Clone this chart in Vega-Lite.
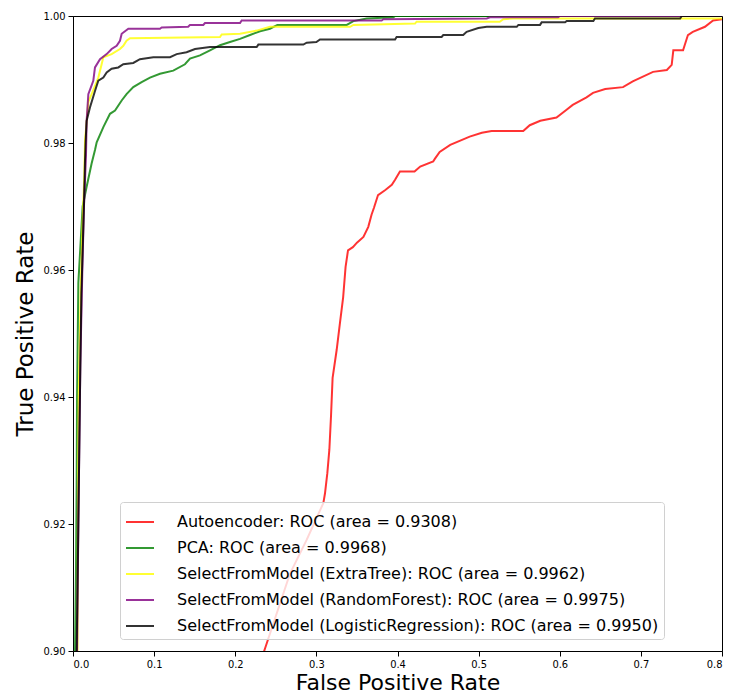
{
  "$schema": "https://vega.github.io/schema/vega-lite/v6.json",
  "autosize": {"type": "none"},
  "padding": {"left": 73, "top": 16, "right": 7, "bottom": 44},
  "width": 649,
  "height": 635,
  "background": "white",
  "datasets": {
    "models": [
      {"m": "ae", "label": "Autoencoder: ROC (area = 0.9308)"},
      {"m": "pca", "label": "PCA: ROC (area = 0.9968)"},
      {"m": "et", "label": "SelectFromModel (ExtraTree): ROC (area = 0.9962)"},
      {"m": "rf", "label": "SelectFromModel (RandomForest): ROC (area = 0.9975)"},
      {"m": "lr", "label": "SelectFromModel (LogisticRegression): ROC (area = 0.9950)"}
    ],
    "curves": [
      {"m": "ae", "fpr": 0.215, "tpr": 0.892},
      {"m": "ae", "fpr": 0.2367, "tpr": 0.9004},
      {"m": "ae", "fpr": 0.2675, "tpr": 0.9122},
      {"m": "ae", "fpr": 0.288, "tpr": 0.9175},
      {"m": "ae", "fpr": 0.3086, "tpr": 0.9233},
      {"m": "ae", "fpr": 0.3106, "tpr": 0.9248},
      {"m": "ae", "fpr": 0.3135, "tpr": 0.928},
      {"m": "ae", "fpr": 0.316, "tpr": 0.9317},
      {"m": "ae", "fpr": 0.318, "tpr": 0.9369},
      {"m": "ae", "fpr": 0.32, "tpr": 0.943},
      {"m": "ae", "fpr": 0.325, "tpr": 0.9474},
      {"m": "ae", "fpr": 0.329, "tpr": 0.9516},
      {"m": "ae", "fpr": 0.333, "tpr": 0.9557},
      {"m": "ae", "fpr": 0.336, "tpr": 0.9605},
      {"m": "ae", "fpr": 0.339, "tpr": 0.9631},
      {"m": "ae", "fpr": 0.345, "tpr": 0.9636},
      {"m": "ae", "fpr": 0.35, "tpr": 0.9643},
      {"m": "ae", "fpr": 0.358, "tpr": 0.9652},
      {"m": "ae", "fpr": 0.364, "tpr": 0.9668},
      {"m": "ae", "fpr": 0.368, "tpr": 0.9687},
      {"m": "ae", "fpr": 0.371, "tpr": 0.9698},
      {"m": "ae", "fpr": 0.376, "tpr": 0.9718},
      {"m": "ae", "fpr": 0.385, "tpr": 0.9726},
      {"m": "ae", "fpr": 0.393, "tpr": 0.9734},
      {"m": "ae", "fpr": 0.397, "tpr": 0.9742},
      {"m": "ae", "fpr": 0.403, "tpr": 0.9755},
      {"m": "ae", "fpr": 0.421, "tpr": 0.9755},
      {"m": "ae", "fpr": 0.428, "tpr": 0.9763},
      {"m": "ae", "fpr": 0.444, "tpr": 0.9771},
      {"m": "ae", "fpr": 0.446, "tpr": 0.9775},
      {"m": "ae", "fpr": 0.452, "tpr": 0.9786},
      {"m": "ae", "fpr": 0.465, "tpr": 0.9797},
      {"m": "ae", "fpr": 0.489, "tpr": 0.981},
      {"m": "ae", "fpr": 0.504, "tpr": 0.9816},
      {"m": "ae", "fpr": 0.516, "tpr": 0.9819},
      {"m": "ae", "fpr": 0.555, "tpr": 0.9819},
      {"m": "ae", "fpr": 0.563, "tpr": 0.9828},
      {"m": "ae", "fpr": 0.576, "tpr": 0.9835},
      {"m": "ae", "fpr": 0.596, "tpr": 0.984},
      {"m": "ae", "fpr": 0.608, "tpr": 0.9852},
      {"m": "ae", "fpr": 0.616, "tpr": 0.986},
      {"m": "ae", "fpr": 0.633, "tpr": 0.9872},
      {"m": "ae", "fpr": 0.641, "tpr": 0.9879},
      {"m": "ae", "fpr": 0.656, "tpr": 0.9885},
      {"m": "ae", "fpr": 0.678, "tpr": 0.9888},
      {"m": "ae", "fpr": 0.69, "tpr": 0.9897},
      {"m": "ae", "fpr": 0.715, "tpr": 0.9912},
      {"m": "ae", "fpr": 0.732, "tpr": 0.9915},
      {"m": "ae", "fpr": 0.738, "tpr": 0.9923},
      {"m": "ae", "fpr": 0.74, "tpr": 0.9946},
      {"m": "ae", "fpr": 0.752, "tpr": 0.9946},
      {"m": "ae", "fpr": 0.758, "tpr": 0.997},
      {"m": "ae", "fpr": 0.764, "tpr": 0.9975},
      {"m": "ae", "fpr": 0.779, "tpr": 0.9983},
      {"m": "ae", "fpr": 0.789, "tpr": 0.9993},
      {"m": "ae", "fpr": 0.8, "tpr": 0.9995},
      {"m": "ae", "fpr": 1.0, "tpr": 1.0},

      {"m": "pca", "fpr": 0.002, "tpr": 0.89},
      {"m": "pca", "fpr": 0.0025, "tpr": 0.9},
      {"m": "pca", "fpr": 0.0037, "tpr": 0.913},
      {"m": "pca", "fpr": 0.0045, "tpr": 0.926},
      {"m": "pca", "fpr": 0.005, "tpr": 0.94},
      {"m": "pca", "fpr": 0.0066, "tpr": 0.958},
      {"m": "pca", "fpr": 0.0119, "tpr": 0.97},
      {"m": "pca", "fpr": 0.0168, "tpr": 0.9731},
      {"m": "pca", "fpr": 0.023, "tpr": 0.9768},
      {"m": "pca", "fpr": 0.0271, "tpr": 0.9789},
      {"m": "pca", "fpr": 0.0292, "tpr": 0.9801},
      {"m": "pca", "fpr": 0.0374, "tpr": 0.9825},
      {"m": "pca", "fpr": 0.0456, "tpr": 0.9846},
      {"m": "pca", "fpr": 0.0518, "tpr": 0.9851},
      {"m": "pca", "fpr": 0.06, "tpr": 0.9867},
      {"m": "pca", "fpr": 0.066, "tpr": 0.9877},
      {"m": "pca", "fpr": 0.0743, "tpr": 0.9888},
      {"m": "pca", "fpr": 0.0846, "tpr": 0.9896},
      {"m": "pca", "fpr": 0.0949, "tpr": 0.9903},
      {"m": "pca", "fpr": 0.1072, "tpr": 0.9909},
      {"m": "pca", "fpr": 0.1236, "tpr": 0.9914},
      {"m": "pca", "fpr": 0.138, "tpr": 0.9924},
      {"m": "pca", "fpr": 0.1442, "tpr": 0.9933},
      {"m": "pca", "fpr": 0.1565, "tpr": 0.9938},
      {"m": "pca", "fpr": 0.1689, "tpr": 0.9946},
      {"m": "pca", "fpr": 0.1812, "tpr": 0.9954},
      {"m": "pca", "fpr": 0.1935, "tpr": 0.9959},
      {"m": "pca", "fpr": 0.2059, "tpr": 0.9964},
      {"m": "pca", "fpr": 0.2182, "tpr": 0.997},
      {"m": "pca", "fpr": 0.2305, "tpr": 0.9976},
      {"m": "pca", "fpr": 0.2428, "tpr": 0.998},
      {"m": "pca", "fpr": 0.2519, "tpr": 0.9986},
      {"m": "pca", "fpr": 0.3374, "tpr": 0.9986},
      {"m": "pca", "fpr": 0.3456, "tpr": 0.9992},
      {"m": "pca", "fpr": 0.362, "tpr": 0.9996},
      {"m": "pca", "fpr": 0.395, "tpr": 0.9998},
      {"m": "pca", "fpr": 0.397, "tpr": 1.0},
      {"m": "pca", "fpr": 1.0, "tpr": 1.0},

      {"m": "et", "fpr": 0.004, "tpr": 0.89},
      {"m": "et", "fpr": 0.0055, "tpr": 0.9},
      {"m": "et", "fpr": 0.006, "tpr": 0.918},
      {"m": "et", "fpr": 0.007, "tpr": 0.94},
      {"m": "et", "fpr": 0.0095, "tpr": 0.957},
      {"m": "et", "fpr": 0.012, "tpr": 0.968},
      {"m": "et", "fpr": 0.014, "tpr": 0.975},
      {"m": "et", "fpr": 0.0148, "tpr": 0.9804},
      {"m": "et", "fpr": 0.019, "tpr": 0.9865},
      {"m": "et", "fpr": 0.023, "tpr": 0.9877},
      {"m": "et", "fpr": 0.0312, "tpr": 0.9903},
      {"m": "et", "fpr": 0.0353, "tpr": 0.9924},
      {"m": "et", "fpr": 0.0374, "tpr": 0.9935},
      {"m": "et", "fpr": 0.0476, "tpr": 0.994},
      {"m": "et", "fpr": 0.0579, "tpr": 0.9948},
      {"m": "et", "fpr": 0.062, "tpr": 0.9953},
      {"m": "et", "fpr": 0.066, "tpr": 0.9961},
      {"m": "et", "fpr": 0.0703, "tpr": 0.9965},
      {"m": "et", "fpr": 0.1812, "tpr": 0.9967},
      {"m": "et", "fpr": 0.1833, "tpr": 0.9971},
      {"m": "et", "fpr": 0.2059, "tpr": 0.9972},
      {"m": "et", "fpr": 0.2264, "tpr": 0.9977},
      {"m": "et", "fpr": 0.2428, "tpr": 0.9983},
      {"m": "et", "fpr": 0.3415, "tpr": 0.9983},
      {"m": "et", "fpr": 0.3456, "tpr": 0.9986},
      {"m": "et", "fpr": 0.4216, "tpr": 0.9988},
      {"m": "et", "fpr": 0.4236, "tpr": 0.9991},
      {"m": "et", "fpr": 0.526, "tpr": 0.9991},
      {"m": "et", "fpr": 0.5304, "tpr": 0.9995},
      {"m": "et", "fpr": 0.5424, "tpr": 0.9996},
      {"m": "et", "fpr": 0.8, "tpr": 0.9996},
      {"m": "et", "fpr": 1.0, "tpr": 1.0},

      {"m": "rf", "fpr": 0.0035, "tpr": 0.89},
      {"m": "rf", "fpr": 0.005, "tpr": 0.9},
      {"m": "rf", "fpr": 0.0066, "tpr": 0.92},
      {"m": "rf", "fpr": 0.009, "tpr": 0.945},
      {"m": "rf", "fpr": 0.0115, "tpr": 0.96},
      {"m": "rf", "fpr": 0.0135, "tpr": 0.97},
      {"m": "rf", "fpr": 0.016, "tpr": 0.978},
      {"m": "rf", "fpr": 0.0168, "tpr": 0.9835},
      {"m": "rf", "fpr": 0.0189, "tpr": 0.9877},
      {"m": "rf", "fpr": 0.025, "tpr": 0.9898},
      {"m": "rf", "fpr": 0.0271, "tpr": 0.9919},
      {"m": "rf", "fpr": 0.0333, "tpr": 0.9932},
      {"m": "rf", "fpr": 0.0415, "tpr": 0.994},
      {"m": "rf", "fpr": 0.0476, "tpr": 0.9948},
      {"m": "rf", "fpr": 0.0538, "tpr": 0.9953},
      {"m": "rf", "fpr": 0.0579, "tpr": 0.9961},
      {"m": "rf", "fpr": 0.06, "tpr": 0.9972},
      {"m": "rf", "fpr": 0.0682, "tpr": 0.998},
      {"m": "rf", "fpr": 0.1072, "tpr": 0.998},
      {"m": "rf", "fpr": 0.1093, "tpr": 0.9982},
      {"m": "rf", "fpr": 0.142, "tpr": 0.9983},
      {"m": "rf", "fpr": 0.1442, "tpr": 0.9986},
      {"m": "rf", "fpr": 0.1606, "tpr": 0.9986},
      {"m": "rf", "fpr": 0.1627, "tpr": 0.9989},
      {"m": "rf", "fpr": 0.2059, "tpr": 0.9989},
      {"m": "rf", "fpr": 0.2079, "tpr": 0.9993},
      {"m": "rf", "fpr": 0.3805, "tpr": 0.9993},
      {"m": "rf", "fpr": 0.3825, "tpr": 0.9995},
      {"m": "rf", "fpr": 0.51, "tpr": 0.9996},
      {"m": "rf", "fpr": 0.514, "tpr": 0.9998},
      {"m": "rf", "fpr": 0.598, "tpr": 0.9998},
      {"m": "rf", "fpr": 0.6, "tpr": 1.0},
      {"m": "rf", "fpr": 1.0, "tpr": 1.0},

      {"m": "lr", "fpr": 0.0035, "tpr": 0.89},
      {"m": "lr", "fpr": 0.0045, "tpr": 0.9002},
      {"m": "lr", "fpr": 0.0066, "tpr": 0.9201},
      {"m": "lr", "fpr": 0.0086, "tpr": 0.9406},
      {"m": "lr", "fpr": 0.0103, "tpr": 0.9563},
      {"m": "lr", "fpr": 0.0119, "tpr": 0.9631},
      {"m": "lr", "fpr": 0.0136, "tpr": 0.9705},
      {"m": "lr", "fpr": 0.0148, "tpr": 0.9773},
      {"m": "lr", "fpr": 0.0155, "tpr": 0.9801},
      {"m": "lr", "fpr": 0.0168, "tpr": 0.9835},
      {"m": "lr", "fpr": 0.0209, "tpr": 0.9856},
      {"m": "lr", "fpr": 0.0271, "tpr": 0.9882},
      {"m": "lr", "fpr": 0.0312, "tpr": 0.9898},
      {"m": "lr", "fpr": 0.0374, "tpr": 0.9903},
      {"m": "lr", "fpr": 0.0415, "tpr": 0.9911},
      {"m": "lr", "fpr": 0.0476, "tpr": 0.9917},
      {"m": "lr", "fpr": 0.0558, "tpr": 0.9919},
      {"m": "lr", "fpr": 0.062, "tpr": 0.9924},
      {"m": "lr", "fpr": 0.0743, "tpr": 0.9926},
      {"m": "lr", "fpr": 0.0825, "tpr": 0.9932},
      {"m": "lr", "fpr": 0.099, "tpr": 0.9935},
      {"m": "lr", "fpr": 0.1196, "tpr": 0.9935},
      {"m": "lr", "fpr": 0.1278, "tpr": 0.994},
      {"m": "lr", "fpr": 0.14, "tpr": 0.9943},
      {"m": "lr", "fpr": 0.1504, "tpr": 0.9948},
      {"m": "lr", "fpr": 0.1689, "tpr": 0.9951},
      {"m": "lr", "fpr": 0.2264, "tpr": 0.9951},
      {"m": "lr", "fpr": 0.2285, "tpr": 0.9955},
      {"m": "lr", "fpr": 0.2839, "tpr": 0.9955},
      {"m": "lr", "fpr": 0.2881, "tpr": 0.9958},
      {"m": "lr", "fpr": 0.3, "tpr": 0.9959},
      {"m": "lr", "fpr": 0.3045, "tpr": 0.9963},
      {"m": "lr", "fpr": 0.397, "tpr": 0.9963},
      {"m": "lr", "fpr": 0.3989, "tpr": 0.9967},
      {"m": "lr", "fpr": 0.4544, "tpr": 0.9967},
      {"m": "lr", "fpr": 0.4564, "tpr": 0.997},
      {"m": "lr", "fpr": 0.481, "tpr": 0.997},
      {"m": "lr", "fpr": 0.4852, "tpr": 0.9975},
      {"m": "lr", "fpr": 0.4996, "tpr": 0.9981},
      {"m": "lr", "fpr": 0.51, "tpr": 0.9983},
      {"m": "lr", "fpr": 0.547, "tpr": 0.9983},
      {"m": "lr", "fpr": 0.549, "tpr": 0.9986},
      {"m": "lr", "fpr": 0.5757, "tpr": 0.9986},
      {"m": "lr", "fpr": 0.5777, "tpr": 0.999},
      {"m": "lr", "fpr": 0.6066, "tpr": 0.999},
      {"m": "lr", "fpr": 0.6086, "tpr": 0.9992},
      {"m": "lr", "fpr": 0.6414, "tpr": 0.9992},
      {"m": "lr", "fpr": 0.6434, "tpr": 0.9996},
      {"m": "lr", "fpr": 0.7484, "tpr": 0.9996},
      {"m": "lr", "fpr": 0.7504, "tpr": 1.0},
      {"m": "lr", "fpr": 1.0, "tpr": 1.0}
    ]
  },
  "data": {"name": "curves"},
  "transform": [
    {"lookup": "m", "from": {"data": {"name": "models"}, "key": "m", "fields": ["label"]}}
  ],
  "mark": {"type": "line", "clip": true, "strokeWidth": 2, "opacity": 0.8},
  "encoding": {
    "x": {
      "field": "fpr",
      "type": "quantitative",
      "scale": {"domain": [0, 0.8], "nice": false, "zero": false},
      "axis": {
        "title": "False Positive Rate",
        "values": [0, 0.1, 0.2, 0.3, 0.4, 0.5, 0.6, 0.7, 0.8],
        "format": ".1f",
        "labelPadding": 2,
        "titlePadding": 3,
        "titleFontSize": 22
      }
    },
    "y": {
      "field": "tpr",
      "type": "quantitative",
      "scale": {"domain": [0.9, 1.0], "nice": false, "zero": false},
      "axis": {
        "title": "True Positive Rate",
        "values": [0.9, 0.92, 0.94, 0.96, 0.98, 1.0],
        "format": ".2f",
        "titlePadding": 5
      }
    },
    "color": {
      "field": "label",
      "type": "nominal",
      "sort": null,
      "scale": {
        "domain": [
          "Autoencoder: ROC (area = 0.9308)",
          "PCA: ROC (area = 0.9968)",
          "SelectFromModel (ExtraTree): ROC (area = 0.9962)",
          "SelectFromModel (RandomForest): ROC (area = 0.9975)",
          "SelectFromModel (LogisticRegression): ROC (area = 0.9950)"
        ],
        "range": ["#ff0000", "#008000", "#ffff00", "#800080", "#000000"]
      },
      "legend": {
        "title": null,
        "orient": "none",
        "legendX": 47,
        "legendY": 486,
        "symbolType": "stroke",
        "symbolSize": 784,
        "symbolStrokeWidth": 2,
        "symbolOpacity": 0.8,
        "labelFontSize": 16,
        "labelFont": "DejaVu Sans",
        "labelColor": "black",
        "labelOffset": 22,
        "labelLimit": 700,
        "rowPadding": 3,
        "padding": 5,
        "fillColor": "rgba(255,255,255,0.8)",
        "strokeColor": "#d0d0d0",
        "cornerRadius": 3
      }
    },
    "order": {"value": null}
  },
  "config": {
    "view": {"stroke": "black", "strokeWidth": 1},
    "axis": {
      "grid": false,
      "domainColor": "black",
      "tickColor": "black",
      "tickSize": 5,
      "labelColor": "black",
      "labelFont": "DejaVu Sans Condensed, Liberation Sans Narrow, DejaVu Sans",
      "labelFontSize": 11,
      "labelPadding": 3,
      "titleFont": "DejaVu Sans",
      "titleFontSize": 23,
      "titleFontWeight": "normal",
      "titleColor": "black"
    }
  }
}
